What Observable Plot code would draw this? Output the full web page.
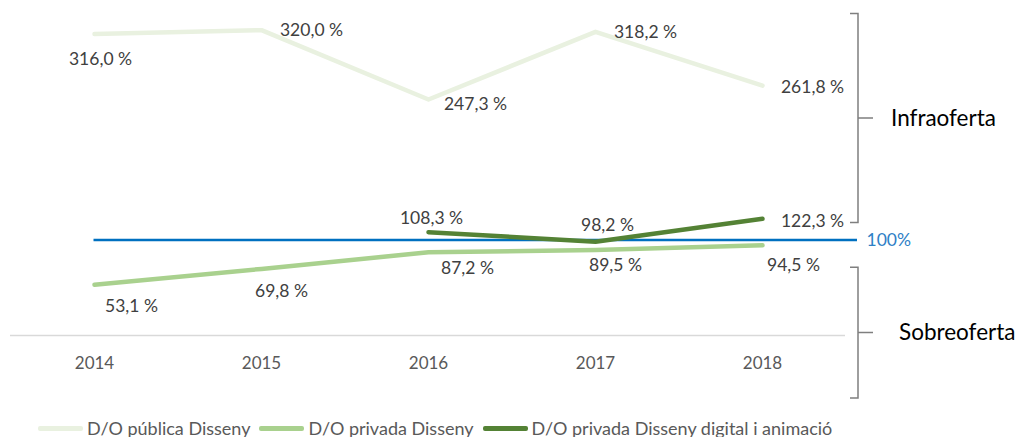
<!DOCTYPE html>
<html><head><meta charset="utf-8">
<script src="https://cdn.jsdelivr.net/npm/d3@7"></script>
<script src="https://cdn.jsdelivr.net/npm/@observablehq/plot@0.6"></script>
<style>
body{margin:0;background:#fff;font-family:Lato,sans-serif;}
#chart svg{display:block;overflow:visible;}
#legend{display:flex;align-items:center;height:20px;margin-top:8px;padding-left:38px;font-size:18px;color:#595959;white-space:nowrap;}
#legend .sw{display:inline-block;width:45px;height:5px;border-radius:2px;margin-right:4px;}
#legend .it{display:flex;align-items:center;margin-right:9px;}
</style></head><body>
<div id="chart"></div><div id="legend"></div>
<script>
// ---- data ----
const years = ["2014", "2015", "2016", "2017", "2018"];
const seriesNames = ["D/O pública Disseny", "D/O privada Disseny", "D/O privada Disseny digital i animació"];
const publicaDisseny = [316.0, 320.0, 247.3, 318.2, 261.8];
const privadaDisseny = [53.1, 69.8, 87.2, 89.5, 94.5];
const privadaDigital = [null, null, 108.3, 98.2, 122.3];
const referenceValue = 100;
const referenceLabel = "100%";
const bracketLabels = ["Infraoferta", "Sobreoferta"];
const bracketRanges = [[118, 337], [-66, 71]];

// ---- styling (not data) ----
const colors = ["#E9F1E0", "#A9D18E", "#548235"];
const labelNudge = [
  [[6, 25], [50, 0], [47, 5], [50, 1], [50, 2]],
  [[37, 22], [20, 22], [39, 16], [20, 15], [31, 20]],
  [null, null, [3, -14], [12, -16], [50, 3]]
];

const allSeries = [publicaDisseny, privadaDisseny, privadaDigital];
const rows = [];
allSeries.forEach((vals, si) => vals.forEach((v, i) => {
  if (v != null) rows.push({series: seriesNames[si], si, i, year: years[i], value: v});
}));
const fmt = v => v.toFixed(1).replace(".", ",") + " %";

const labelMarks = rows.map(r => Plot.text([r], {
  x: "year", y: "value", text: d => fmt(d.value),
  dx: labelNudge[r.si][r.i][0], dy: labelNudge[r.si][r.i][1],
  fill: "#404040", fontSize: 17.5
}));

const bracketMark = (index, scales, values, dims) => {
  const g = d3.create("svg:g");
  const xb = dims.width - dims.marginRight + 13;
  bracketRanges.forEach(([lo, hi], k) => {
    const y1 = scales.y(hi), y2 = scales.y(lo), ym = (y1 + y2) / 2;
    g.append("path")
      .attr("d", `M${xb-8},${y1}H${xb}V${y2}H${xb-8}M${xb},${ym}H${xb+15}`)
      .attr("fill", "none").attr("stroke", "#7F7F7F").attr("stroke-width", 1.5);
    g.append("text").attr("x", xb + (k === 0 ? 33 : 41)).attr("y", ym).attr("dy", "0.35em")
      .attr("text-anchor", "start")
      .attr("font-size", 22.5).attr("fill", "#000").text(bracketLabels[k]);
  });
  return g.node();
};

const plot = Plot.plot({
  width: 1021, height: 410,
  marginLeft: 10, marginRight: 176, marginTop: 1, marginBottom: 75,
  x: {type: "point", domain: years, padding: 0.5, label: null},
  y: {domain: [0, 350], axis: null},
  color: {domain: seriesNames, range: colors},
  style: {fontFamily: "Lato, sans-serif", background: "transparent", overflow: "visible"},
  marks: [
    Plot.ruleY([0], {stroke: "#D9D9D9", strokeWidth: 1.5}),
    Plot.axisX({tickSize: 0, tickPadding: 21, fontSize: 17, fill: "#595959", label: null}),
    Plot.ruleY([referenceValue], {stroke: "#0070C0", strokeWidth: 2.5, insetLeft: 83.5, insetRight: -12}),
    Plot.text([referenceValue], {y: d => d, text: [referenceLabel], frameAnchor: "right", dx: 21, textAnchor: "start", fill: "#2E80C6", fontSize: 17.5}),
    Plot.line(rows, {x: "year", y: "value", z: "series", stroke: "series", strokeWidth: 4.5, strokeLinecap: "round", strokeLinejoin: "round"}),
    ...labelMarks,
    bracketMark
  ]
});
document.getElementById("chart").append(plot);

const legend = d3.select("#legend");
seriesNames.forEach((n, k) => {
  const it = legend.append("div").attr("class", "it");
  it.append("span").attr("class", "sw").style("background", colors[k]);
  it.append("span").text(n);
});
</script>
</body></html>
